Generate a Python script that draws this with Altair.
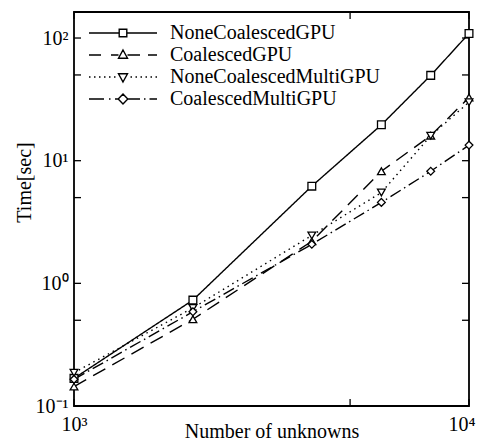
import altair as alt
import pandas as pd

# ---- data ----
x_vals = [1000, 2000, 4000, 6000, 8000, 10000]
none_coalesced_gpu = [0.168, 0.73, 6.2, 19.6, 49.6, 109.0]
coalesced_gpu = [0.144, 0.51, 2.2, 8.2, 16.0, 32.8]
none_coalesced_multi_gpu = [0.187, 0.63, 2.46, 5.5, 16.0, 30.0]
coalesced_multi_gpu = [0.165, 0.587, 2.08, 4.57, 8.2, 13.4]
series_names = ["NoneCoalescedGPU", "CoalescedGPU", "NoneCoalescedMultiGPU", "CoalescedMultiGPU"]

y_tick_values = [0.1, 0.5, 1, 5, 10, 50, 100]
x_tick_values = [1000, 5000, 10000]
y_label_values = [0.1, 1, 10, 100]
x_label_values = [1000, 10000]

series_values = [none_coalesced_gpu, coalesced_gpu, none_coalesced_multi_gpu, coalesced_multi_gpu]
rows = []
for name, vals in zip(series_names, series_values):
    for xv, yv in zip(x_vals, vals):
        rows.append({"n": xv, "time": yv, "series": name})
df = pd.DataFrame(rows)

W, H = 395, 394
FONT = "Liberation Serif"
TL = 7  # tick length

xscale = alt.Scale(type="log", domain=[1000, 10000], nice=False)
yscale = alt.Scale(type="log", domain=[0.1, 163], nice=False)

x_axis = alt.Axis(values=x_label_values, title="Number of unknowns",
                  labelExpr="datum.value < 5000 ? '10³' : '10⁴'",
                  labelAlign={"condition": {"test": "datum.value > 5000", "value": "right"}, "value": "center"},
                  labelOffset={"condition": {"test": "datum.value > 5000", "value": 6}, "value": 0},
                  ticks=False, grid=False, domain=False,
                  labelFont=FONT, labelFontSize=20, labelColor="black",
                  labelPadding=8, labelFlush=False,
                  titleFont=FONT, titleFontSize=20, titleFontWeight="normal",
                  titleColor="#000000", titleY=31, titleBaseline="alphabetic")
y_axis = alt.Axis(values=y_label_values, title="Time[sec]",
                  labelExpr="datum.value < 0.5 ? '10⁻¹' : datum.value < 5 ? '10⁰' : datum.value < 50 ? '10¹' : '10²'",
                  ticks=False, grid=False, domain=False,
                  labelFont=FONT, labelFontSize=20, labelColor="black",
                  labelPadding=6, labelFlush=False, labelBaseline="middle",
                  titleFont=FONT, titleFontSize=20, titleFontWeight="normal",
                  titleColor="#000000", titleX=-44, titleY=170, titleBaseline="alphabetic")

dash_range = [[1, 0], [14, 8], [1.5, 4], [12, 4, 1.5, 4]]
shape_range = ["square", "triangle-up", "triangle-down", "diamond"]

# legend symbols: line sample + marker as custom paths
# (symbol size 400 -> 1 path unit = 10 px; sample spans -3.4..3.4)
legend_paths = [
    "M-3.4,0L-0.45,0M0.45,0L3.4,0M-0.38,-0.38L0.38,-0.38L0.38,0.38L-0.38,0.38Z",
    "M-3.4,0L-2.2,0M-1.2,0L-0.45,0M0.45,0L1.7,0M2.5,0L3.4,0M0,-0.5L0.45,0.32L-0.45,0.32Z",
    "M-3.4,0L-3.25,0M-2.9,0L-2.75,0M-2.4,0L-2.25,0M-1.9,0L-1.75,0M-1.4,0L-1.25,0M-0.9,0L-0.75,0"
    "M0.75,0L0.9,0M1.25,0L1.4,0M1.75,0L1.9,0M2.25,0L2.4,0M2.75,0L2.9,0M3.25,0L3.4,0"
    "M0,0.5L0.45,-0.32L-0.45,-0.32Z",
    "M-3.4,0L-1.9,0M-1.4,0L-1.25,0M-0.8,0L-0.5,0M0.5,0L1.7,0M2.1,0L2.25,0M2.65,0L3.4,0"
    "M0,-0.5L0.48,0L0,0.5L-0.48,0Z",
]

base = alt.Chart(df)

lines = base.mark_line(color="black", strokeWidth=1.4).encode(
    x=alt.X("n:Q", scale=xscale, axis=x_axis),
    y=alt.Y("time:Q", scale=yscale, axis=y_axis),
    strokeDash=alt.StrokeDash("series:N", scale=alt.Scale(domain=series_names, range=dash_range), legend=None),
    detail="series:N",
)

points = base.mark_point(filled=True, fill="white", stroke="black", strokeWidth=1.3, size=60, opacity=1).encode(
    x=alt.X("n:Q", scale=xscale, axis=x_axis),
    y=alt.Y("time:Q", scale=yscale, axis=y_axis),
    shape=alt.Shape("series:N", scale=alt.Scale(domain=series_names, range=shape_range), legend=None),
)

legend_layer = base.mark_point(
    filled=False, color="black", strokeWidth=1.4, opacity=0
).encode(
    x=alt.X("n:Q", scale=xscale, axis=x_axis),
    y=alt.Y("time:Q", scale=yscale, axis=y_axis),
    shape=alt.Shape("series:N", scale=alt.Scale(domain=series_names, range=legend_paths),
                    legend=alt.Legend(title=None, orient="none", legendX=38, legendY=10,
                                      symbolSize=400, symbolFillColor="transparent",
                                      symbolStrokeColor="black", symbolStrokeWidth=1.4,
                                      symbolOpacity=1, labelFont=FONT, labelFontSize=20,
                                      labelColor="black", labelOffset=36, rowPadding=1,
                                      labelLimit=400)),
)

ydf = pd.DataFrame({"time": y_tick_values})
xdf = pd.DataFrame({"n": x_tick_values})

tick_style = dict(color="black", strokeWidth=1.3)
left_ticks = alt.Chart(ydf).mark_rule(**tick_style).encode(
    y=alt.Y("time:Q", scale=yscale, axis=y_axis), x=alt.value(0), x2=alt.value(TL))
right_ticks = alt.Chart(ydf).mark_rule(**tick_style).encode(
    y=alt.Y("time:Q", scale=yscale, axis=y_axis), x=alt.value(W - TL), x2=alt.value(W))
bottom_ticks = alt.Chart(xdf).mark_rule(**tick_style).encode(
    x=alt.X("n:Q", scale=xscale, axis=x_axis), y=alt.value(H), y2=alt.value(H - TL))
top_ticks = alt.Chart(xdf).mark_rule(**tick_style).encode(
    x=alt.X("n:Q", scale=xscale, axis=x_axis), y=alt.value(0), y2=alt.value(TL))

chart = alt.layer(
    lines, points, legend_layer, left_ticks, right_ticks, bottom_ticks, top_ticks
).resolve_scale(shape="independent").properties(
    width=W, height=H,
    autosize=alt.AutoSizeParams(type="none"),
    padding={"left": 66, "top": 4, "right": 7, "bottom": 40},
    background="white",
).configure_view(stroke="black", strokeWidth=1.8)

chart.save("out.html", embed_options={"renderer": "svg", "actions": False})
